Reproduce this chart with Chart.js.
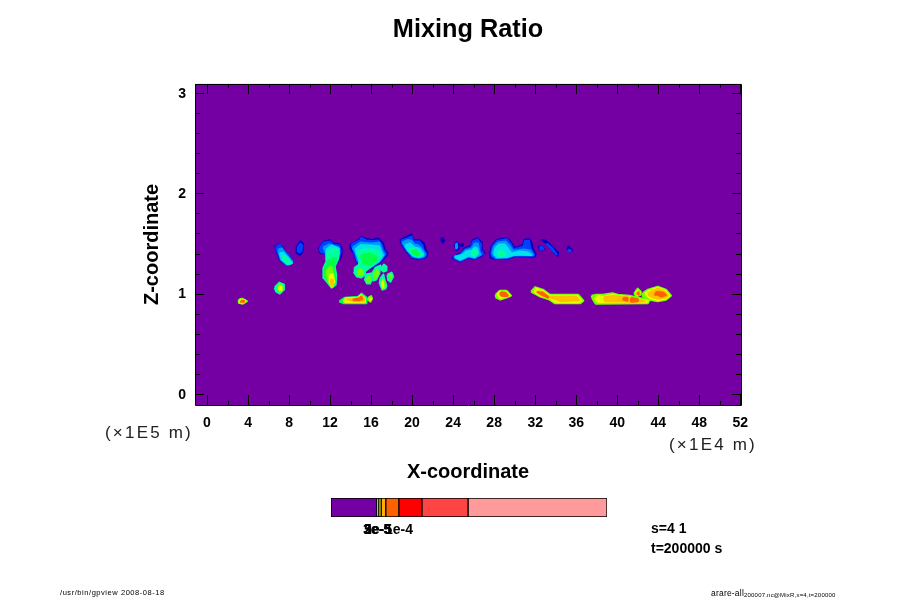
<!DOCTYPE html>
<html><head><meta charset="utf-8">
<style>html,body{margin:0;padding:0;background:#fff;width:900px;height:600px;overflow:hidden}
canvas{position:absolute;display:block}#main{left:0;top:0}#bar{left:331px;top:498px}</style>
<script src="https://cdn.jsdelivr.net/npm/chart.js@4/dist/chart.umd.js"></script>
</head><body>
<canvas id="main" width="900" height="600"></canvas>
<canvas id="bar" width="276" height="19"></canvas>
<script>
const xMajorTicks=[0,4,8,12,16,20,24,28,32,36,40,44,48,52];
const xMinorTicks=[2,6,10,14,18,22,26,30,34,38,42,46,50];
const zMajorTicks=[0,1,2,3];
const zMinorTicks=[0.2,0.4,0.6,0.8,1.2,1.4,1.6,1.8,2.2,2.4,2.6,2.8];

// Filled contours of the mixing ratio: x (1E4 m), z (1E5 m), one list per level
const level1=[
[[6.6,1.47],[7.1,1.5],[7.45,1.455],[7.8,1.405],[8.4,1.32],[8.25,1.29],[7.75,1.28],[7.1,1.33],[6.8,1.405]],
[[8.7,1.47],[9.1,1.53],[9.4,1.5],[9.35,1.42],[9.1,1.38],[8.75,1.4]],
[[10.85,1.455],[11.35,1.52],[12,1.54],[12.3,1.505],[12.95,1.495],[13.2,1.44],[13.1,1.355],[12.7,1.305],[11.65,1.355],[11.6,1.39],[11,1.405]],
[[13.95,1.49],[14.75,1.54],[15.05,1.57],[15.55,1.55],[16.05,1.54],[16.7,1.555],[17.2,1.505],[17.35,1.44],[17.65,1.405],[17.5,1.37],[17,1.32],[16.2,1.255],[15.25,1.27],[14.6,1.305],[14.25,1.405],[14,1.44]],
[[18.8,1.54],[19.45,1.57],[19.95,1.595],[20.15,1.54],[20.75,1.54],[21.2,1.505],[21.3,1.455],[21.55,1.405],[21.4,1.36],[20.75,1.34],[19.95,1.355],[19.25,1.44],[18.95,1.49]],
[[22.8,1.55],[23,1.56],[23.2,1.53],[23,1.5],[22.85,1.52]],
[[24.1,1.48],[24.3,1.52],[24.55,1.5],[24.55,1.44],[24.3,1.43]],
[[24.75,1.5],[24.95,1.5],[24.95,1.47],[24.75,1.47]],
[[23.85,1.36],[24.65,1.405],[25.1,1.455],[25.7,1.48],[25.9,1.54],[26.4,1.555],[26.75,1.52],[26.8,1.44],[27.15,1.405],[26.75,1.37],[26.1,1.34],[25.45,1.355],[24.65,1.315],[24.15,1.34]],
[[27.55,1.39],[27.7,1.47],[28.2,1.54],[29.2,1.56],[29.65,1.52],[30,1.46],[30.8,1.49],[30.9,1.54],[31.45,1.55],[31.65,1.52],[31.8,1.455],[32.1,1.39],[31.95,1.365],[30,1.37],[29.2,1.34],[28.2,1.34],[27.6,1.355]],
[[32.3,1.47],[32.6,1.48],[32.95,1.44],[32.6,1.43],[32.3,1.455]],
[[32.6,1.54],[33.1,1.53],[33.7,1.47],[34.3,1.41],[34.2,1.37],[33.85,1.4],[33.4,1.48],[32.75,1.52]],
[[35.1,1.45],[35.2,1.48],[35.7,1.43],[35.3,1.415]]
];
const level2=[
[[6.7,1.465],[7.1,1.49],[7.4,1.44],[7.9,1.39],[8.35,1.32],[8.2,1.3],[7.75,1.29],[7.2,1.34],[6.9,1.405]],
[[8.85,1.46],[9.1,1.5],[9.3,1.48],[9.2,1.42],[9,1.41],[8.85,1.42]],
[[10.95,1.45],[11.4,1.51],[12,1.52],[12.3,1.49],[12.9,1.48],[13.05,1.42],[12.7,1.32],[11.65,1.37],[11.5,1.405],[11.1,1.415]],
[[14.1,1.49],[14.9,1.53],[15.05,1.555],[15.55,1.53],[16.05,1.525],[16.7,1.53],[17.05,1.49],[17.2,1.43],[17.45,1.4],[16.9,1.33],[16.2,1.27],[15.25,1.285],[14.65,1.32],[14.3,1.42]],
[[18.95,1.53],[19.5,1.55],[19.95,1.57],[20.1,1.52],[20.7,1.52],[21,1.48],[21.1,1.44],[21.4,1.4],[21.3,1.37],[20.75,1.35],[20,1.365],[19.4,1.44],[19.1,1.49]],
[[24,1.365],[24.7,1.39],[25.15,1.44],[25.75,1.465],[25.95,1.52],[26.4,1.54],[26.65,1.5],[26.7,1.43],[26.95,1.4],[26.1,1.35],[25.45,1.365],[24.65,1.325],[24.2,1.35]],
[[27.7,1.395],[27.85,1.47],[28.3,1.525],[29.2,1.545],[29.6,1.5],[29.9,1.44],[30.85,1.47],[31,1.525],[31.4,1.53],[31.5,1.46],[31.9,1.39],[31.8,1.375],[30,1.38],[29.2,1.35],[28.2,1.35],[27.8,1.37]],
[[33.1,1.5],[33.7,1.45],[34.1,1.39],[33.9,1.41],[33.4,1.47]],
[[32.45,1.465],[32.6,1.47],[32.8,1.445],[32.55,1.44]],
[[35.2,1.44],[35.5,1.43],[35.3,1.42]]
];
const level3=[
[[6.95,1.44],[7.3,1.45],[7.8,1.38],[8.3,1.32],[8.2,1.3],[7.75,1.29],[7.2,1.34]],
[[24.25,1.49],[24.35,1.5],[24.4,1.46],[24.3,1.45]],
[[11.35,1.46],[11.9,1.49],[12.8,1.46],[12.9,1.4],[12.6,1.32],[11.8,1.37]],
[[14.2,1.46],[15,1.51],[16,1.5],[16.8,1.51],[17.1,1.42],[17.3,1.39],[16.8,1.32],[16,1.27],[15.2,1.29],[14.7,1.33],[14.45,1.42]],
[[19.05,1.51],[19.6,1.535],[19.9,1.53],[20.2,1.49],[20.6,1.48],[21,1.44],[21.25,1.39],[21.1,1.37],[20.7,1.36],[20.1,1.37],[19.5,1.44]],
[[24.1,1.37],[24.7,1.38],[25.2,1.43],[25.8,1.45],[26.1,1.5],[26.4,1.5],[26.55,1.42],[26.7,1.39],[26.1,1.36],[25.45,1.37],[24.7,1.335],[24.3,1.35]],
[[27.8,1.4],[28,1.47],[28.4,1.51],[29.1,1.52],[29.55,1.47],[29.85,1.425],[30.9,1.44],[31.5,1.43],[31.8,1.385],[30,1.385],[29.2,1.36],[28.2,1.355]]
];
const level4=[
[[7.1,1.405],[7.45,1.405],[7.9,1.355],[8.3,1.305],[7.9,1.29],[7.3,1.34]],
[[11.65,1.44],[12.15,1.48],[12.8,1.45],[12.85,1.39],[12.55,1.305],[11.65,1.34]],
[[14.45,1.44],[15,1.485],[16,1.48],[16.8,1.47],[17,1.41],[17.15,1.38],[16.7,1.32],[15.8,1.27],[15,1.29],[14.8,1.34]],
[[19.3,1.48],[19.8,1.5],[20.2,1.46],[20.7,1.45],[21,1.405],[21.05,1.38],[20.6,1.365],[20.1,1.38],[19.6,1.43]],
[[24.2,1.365],[25,1.39],[25.3,1.42],[25.85,1.43],[26.1,1.46],[26.35,1.45],[26.45,1.4],[26.1,1.365],[25.5,1.38],[24.7,1.34]],
[[28,1.39],[28.1,1.45],[28.5,1.49],[29,1.49],[29.4,1.44],[29.7,1.4],[30.5,1.42],[31.3,1.41],[31.6,1.385],[30,1.39],[29.2,1.365],[28.3,1.365]]
];
const level5=[
[[7.5,1.38],[8,1.33],[8.2,1.305],[7.8,1.3],[7.4,1.35]],
[[11.65,1.405],[12.15,1.445],[12.8,1.44],[12.8,1.355],[12.45,1.27],[12.6,1.19],[12.55,1.09],[12.15,1.06],[11.8,1.105],[11.4,1.155],[11.35,1.255],[11.65,1.32]],
[[14.75,1.42],[15.3,1.44],[16.2,1.44],[16.7,1.42],[16.9,1.37],[16.5,1.32],[15.9,1.26],[15.5,1.23],[14.95,1.19],[14.6,1.22],[14.75,1.27],[14.9,1.33]],
[[14.4,1.26],[14.9,1.29],[15.4,1.24],[15.4,1.19],[15.05,1.16],[14.6,1.17],[14.35,1.21]],
[[15.5,1.19],[16,1.2],[16.1,1.15],[15.9,1.1],[15.6,1.1],[15.4,1.14]],
[[16.1,1.2],[16.45,1.26],[16.9,1.28],[16.8,1.2],[16.5,1.14],[16.2,1.13]],
[[17,1.26],[17.25,1.29],[17.5,1.27],[17.5,1.23],[17.2,1.22],[17,1.24]],
[[16.9,1.15],[17.2,1.19],[17.3,1.14],[17.5,1.08],[17.4,1.05],[17.1,1.04],[16.85,1.1]],
[[17.6,1.19],[18,1.21],[18.15,1.17],[17.9,1.12],[17.65,1.14]],
[[6.6,1.06],[7.05,1.11],[7.5,1.09],[7.5,1.04],[7.1,1],[6.75,1.02]],
[[19.7,1.44],[20.1,1.45],[20.7,1.41],[21,1.39],[20.6,1.37],[20.1,1.39]],
[[25.85,1.41],[26.1,1.44],[26.35,1.41],[26.1,1.37],[25.85,1.39]],
[[28.3,1.4],[28.6,1.43],[29,1.41],[29.1,1.385],[28.6,1.37]]
];
const level6=[
[[11.8,1.32],[12.3,1.355],[12.6,1.355],[12.35,1.255],[12.5,1.14],[12.3,1.07],[12,1.09],[11.5,1.17],[11.5,1.255]],
[[15,1.38],[15.8,1.4],[16.5,1.37],[16.6,1.34],[16,1.29],[15.3,1.3]],
[[20,1.425],[20.3,1.43],[20.7,1.4],[20.5,1.38],[20.15,1.4]],
[[12.9,0.92],[13.45,0.96],[14.75,0.97],[15.05,1],[15.55,0.96],[15.55,0.905],[13.3,0.905]]
];
const level7=[
[[11.7,1.24],[12.1,1.27],[12.3,1.2],[12.45,1.12],[12.25,1.07],[11.95,1.1],[11.65,1.19]],
[[14.75,1.24],[15.1,1.24],[15.2,1.2],[15,1.18],[14.7,1.19]],
[[15.7,1.17],[15.9,1.16],[15.85,1.12],[15.6,1.12]],
[[16.3,1.19],[16.6,1.24],[16.7,1.2],[16.4,1.15]],
[[17,1.13],[17.2,1.14],[17.35,1.07],[17.15,1.05]],
[[17.8,1.19],[18,1.18],[17.85,1.15]],
[[6.9,1.06],[7.1,1.09],[7.35,1.07],[7.35,1.04],[7.1,1.02]],
[[3.1,0.94],[3.4,0.95],[3.9,0.925],[3.5,0.9],[3.1,0.91]],
[[15.7,0.955],[16,0.975],[16.1,0.95],[15.95,0.92],[15.7,0.94]],
[[28.15,0.99],[28.55,1.03],[29.2,1.03],[29.65,0.98],[29.2,0.96],[28.6,0.94],[28.2,0.96]],
[[31.6,1.02],[32,1.065],[32.75,1.04],[33.4,0.99],[36.2,0.99],[36.7,0.93],[36.4,0.905],[33.9,0.905],[33.4,0.94],[32.5,0.97]],
[[37.5,0.98],[37.95,0.99],[38.6,0.99],[39.55,1.005],[40.05,0.99],[41.2,0.98],[42,0.96],[43.15,0.94],[43,0.905],[37.9,0.9],[37.6,0.95]],
[[41.65,1],[42,1.05],[42.3,1.02],[42.3,0.99],[41.9,0.97]],
[[42.5,1.006],[43,1.04],[43.95,1.07],[44.75,1.04],[45.25,0.98],[44.75,0.94],[43.95,0.925],[43.15,0.94],[42.5,0.97]]
];
const level8=[
[[11.95,1.19],[12.25,1.19],[12.4,1.115],[12.15,1.07],[11.95,1.12]],
[[17.05,1.12],[17.15,1.12],[17.2,1.06],[17.1,1.07]],
[[7.05,1.07],[7.25,1.07],[7.25,1.04],[7.05,1.04]],
[[3.2,0.94],[3.6,0.94],[3.75,0.925],[3.5,0.91],[3.2,0.915]],
[[13.3,0.925],[13.55,0.955],[14.7,0.96],[15.05,0.985],[15.4,0.955],[15.4,0.915],[13.5,0.915]],
[[15.85,0.95],[16,0.95],[15.9,0.935]],
[[28.3,0.99],[28.6,1.02],[29.15,1.02],[29.5,0.98],[29.1,0.97],[28.6,0.955]],
[[31.9,1.02],[32.1,1.05],[32.7,1.03],[33.4,0.98],[36.1,0.98],[36.5,0.93],[36.2,0.915],[34,0.915],[33.5,0.95],[32.5,0.98]],
[[38.1,0.98],[38.6,0.97],[39.55,0.99],[40.05,0.98],[41.2,0.965],[42,0.945],[43,0.93],[42.85,0.915],[38.1,0.915],[37.85,0.95]],
[[41.8,1],[42,1.03],[42.2,1.01],[42,0.985]],
[[42.7,1],[43.1,1.03],[43.95,1.06],[44.7,1.03],[45.1,0.98],[44.7,0.95],[43.95,0.935],[43.2,0.955],[42.9,0.98]]
];
const level9=[
[[12.05,1.14],[12.25,1.14],[12.3,1.1],[12.15,1.08]],
[[13.6,0.945],[14.6,0.95],[15.05,0.975],[15.35,0.95],[15.3,0.925],[14.3,0.925]],
[[32.1,1.02],[32.75,1.02],[33.3,0.97],[36,0.97],[36.3,0.935],[34.5,0.925],[33.5,0.96],[32.6,0.985]],
[[38.7,0.965],[39.6,0.98],[41.1,0.96],[42,0.94],[42.7,0.925],[41.5,0.92],[38.8,0.925]],
[[43,0.995],[43.3,1.02],[44,1.05],[44.6,1.02],[44.95,0.98],[44.6,0.96],[43.9,0.95],[43.3,0.97]]
];
const level10=[
[[3.3,0.93],[3.6,0.93],[3.6,0.92],[3.3,0.92]],
[[14.2,0.94],[14.9,0.955],[15.05,0.97],[15.15,0.945],[14.6,0.935]],
[[28.55,1],[28.75,1.015],[29.1,1.01],[29.35,0.98],[29,0.975],[28.7,0.98]],
[[32.2,1.02],[32.7,1.01],[33.25,0.97],[33.25,0.96],[32.7,0.985]],
[[40.6,0.96],[41,0.96],[41,0.93],[40.6,0.94]],
[[41.35,0.96],[42,0.945],[42,0.925],[41.4,0.92]],
[[41.9,1],[42.1,1.015],[42.1,0.99]],
[[43.7,1.01],[44,1.02],[44.5,1.01],[44.75,0.985],[44.3,0.97],[43.9,0.99],[43.7,0.99]]
];
const levels=[level1,level2,level3,level4,level5,level6,level7,level8,level9,level10];
const levelColors=['#0000c0','#0040ff','#0098ff','#00e4e8','#00ffa0','#00ff48','#70ff00','#e8ff00','#ffc000','#ff6000'];
const fieldColor='#7400a4';

const colorbarSteps=[45.6,2,2.4,4.6,13,23,46,138.4];
const colorbarColors=['#7400a4','#c8ff00','#f0e800','#ffb000','#ff6000','#ff0000','#ff4444','#ff9a9a'];

const titleText='Mixing Ratio', xTitle='X-coordinate', zTitle='Z-coordinate';
const notes=[
 ['(×1E5 m)',105,433,'17px "DejaVu Sans ExtraLight","Liberation Sans"','2.2px','#222'],
 ['(×1E4 m)',669,445,'17px "DejaVu Sans ExtraLight","Liberation Sans"','2.2px','#222'],
 ['3e-5',363,530,'bold 14px "Liberation Sans"','0px','#000'],
 ['2e-5',364,530,'bold 14px "Liberation Sans"','0px','#000'],
 ['5e-5',364,530,'bold 14px "Liberation Sans"','0px','#000'],
 ['1e-4',385,530,'bold 14px "Liberation Sans"','0px','#000'],
 ['s=4 1',651,529,'bold 14px "Liberation Sans"','0px','#000'],
 ['t=200000 s',651,549,'bold 14px "Liberation Sans"','0px','#000'],
 ['/usr/bin/gpview 2008-08-18',60,593,'7.5px "Liberation Sans"','0.55px','#000'],
 ['arare-all',711,594,'8.5px "Liberation Sans"','0.2px','#000'],
 ['200007.nc@MixR,x=4,t=200000',744,595,'6px "Liberation Sans"','0.2px','#000']
];

const datasets=[];
levels.forEach((polys,li)=>polys.forEach(poly=>{
  const pts=poly.concat([poly[0]]).map(p=>({x:p[0],y:p[1]}));
  datasets.push({type:'scatter',data:pts,showLine:true,fill:'shape',backgroundColor:levelColors[li],
    borderColor:levelColors[li],borderWidth:li===0?1:2,borderJoinStyle:'round',pointRadius:0,pointHoverRadius:0,order:levels.length-li});
}));

const frame={id:'frame',
 beforeDatasetsDraw(c){const a=c.chartArea,x=c.ctx;x.save();x.fillStyle=fieldColor;
   x.fillRect(a.left,a.top,a.right-a.left,a.bottom-a.top);x.restore();},
 afterDraw(c){const a=c.chartArea,x=c.ctx,sx=c.scales.x,sz=c.scales.y;x.save();
   x.strokeStyle='#000';x.lineWidth=1;x.beginPath();
   const h=(vals,len)=>vals.forEach(v=>{const p=Math.round(sx.getPixelForValue(v))+.5;
     x.moveTo(p,a.bottom);x.lineTo(p,a.bottom-len);x.moveTo(p,a.top);x.lineTo(p,a.top+len);});
   const w=(vals,len)=>vals.forEach(v=>{const p=Math.round(sz.getPixelForValue(v))+.5;
     x.moveTo(a.left,p);x.lineTo(a.left+len,p);x.moveTo(a.right,p);x.lineTo(a.right-len,p);});
   h(xMajorTicks,10);h(xMinorTicks,4);w(zMajorTicks,9);w(zMinorTicks,5);
   x.rect(a.left+.5,a.top+.5,a.right-a.left,a.bottom-a.top);x.stroke();
   x.textAlign='left';x.textBaseline='middle';
   notes.forEach(n=>{x.font=n[3];x.letterSpacing=n[4];x.fillStyle=n[5];x.fillText(n[0],n[1],n[2]);});
   x.restore();}
};

new Chart(document.getElementById('main'),{
 data:{datasets},
 plugins:[frame],
 options:{responsive:false,animation:false,devicePixelRatio:1,
  events:[],
  layout:{padding:{left:139,right:159,top:0,bottom:116}},
  plugins:{legend:{display:false},tooltip:{enabled:false},
   title:{display:true,text:titleText,fullSize:false,color:'#000',font:{family:'Liberation Sans',size:25.3,weight:'bold'},
     padding:{top:14.8,bottom:38.8}}},
  scales:{
   x:{type:'linear',min:-1.17,max:52.07,grid:{display:false,tickLength:0},border:{display:false},
     afterBuildTicks(s){s.ticks=xMajorTicks.map(v=>({value:v}));},
     afterFit(s){s.height=79;},
     ticks:{color:'#000',autoSkip:false,maxRotation:0,padding:10,font:{family:'Liberation Sans',size:14,weight:'bold'},callback:v=>String(v)},
     title:{display:true,text:xTitle,color:'#000',font:{family:'Liberation Sans',size:20,weight:'bold'},padding:0}},
   y:{type:'linear',min:-0.11,max:3.09,grid:{display:false,tickLength:0},border:{display:false},
     afterBuildTicks(s){s.ticks=zMajorTicks.map(v=>({value:v}));},
     afterFit(s){s.width=56;},
     ticks:{color:'#000',autoSkip:false,padding:9,labelOffset:1,font:{family:'Liberation Sans',size:14,weight:'bold'},callback:v=>String(v)},
     title:{display:true,text:zTitle,color:'#000',font:{family:'Liberation Sans',size:20,weight:'bold'},padding:{top:1,bottom:0}}}
  }}
});

new Chart(document.getElementById('bar'),{
 type:'bar',
 data:{labels:['colorbar'],datasets:colorbarSteps.map((v,i)=>({data:[v],backgroundColor:colorbarColors[i],borderColor:'#000',borderWidth:1,borderSkipped:false,barPercentage:1,categoryPercentage:1}))},
 options:{indexAxis:'y',responsive:false,animation:false,devicePixelRatio:1,events:[],
  layout:{padding:0},plugins:{legend:{display:false},tooltip:{enabled:false}},
  scales:{x:{stacked:true,display:false,min:0,max:colorbarSteps.reduce((a,b)=>a+b,0)},y:{stacked:true,display:false}}}
});
</script>
</body></html>
